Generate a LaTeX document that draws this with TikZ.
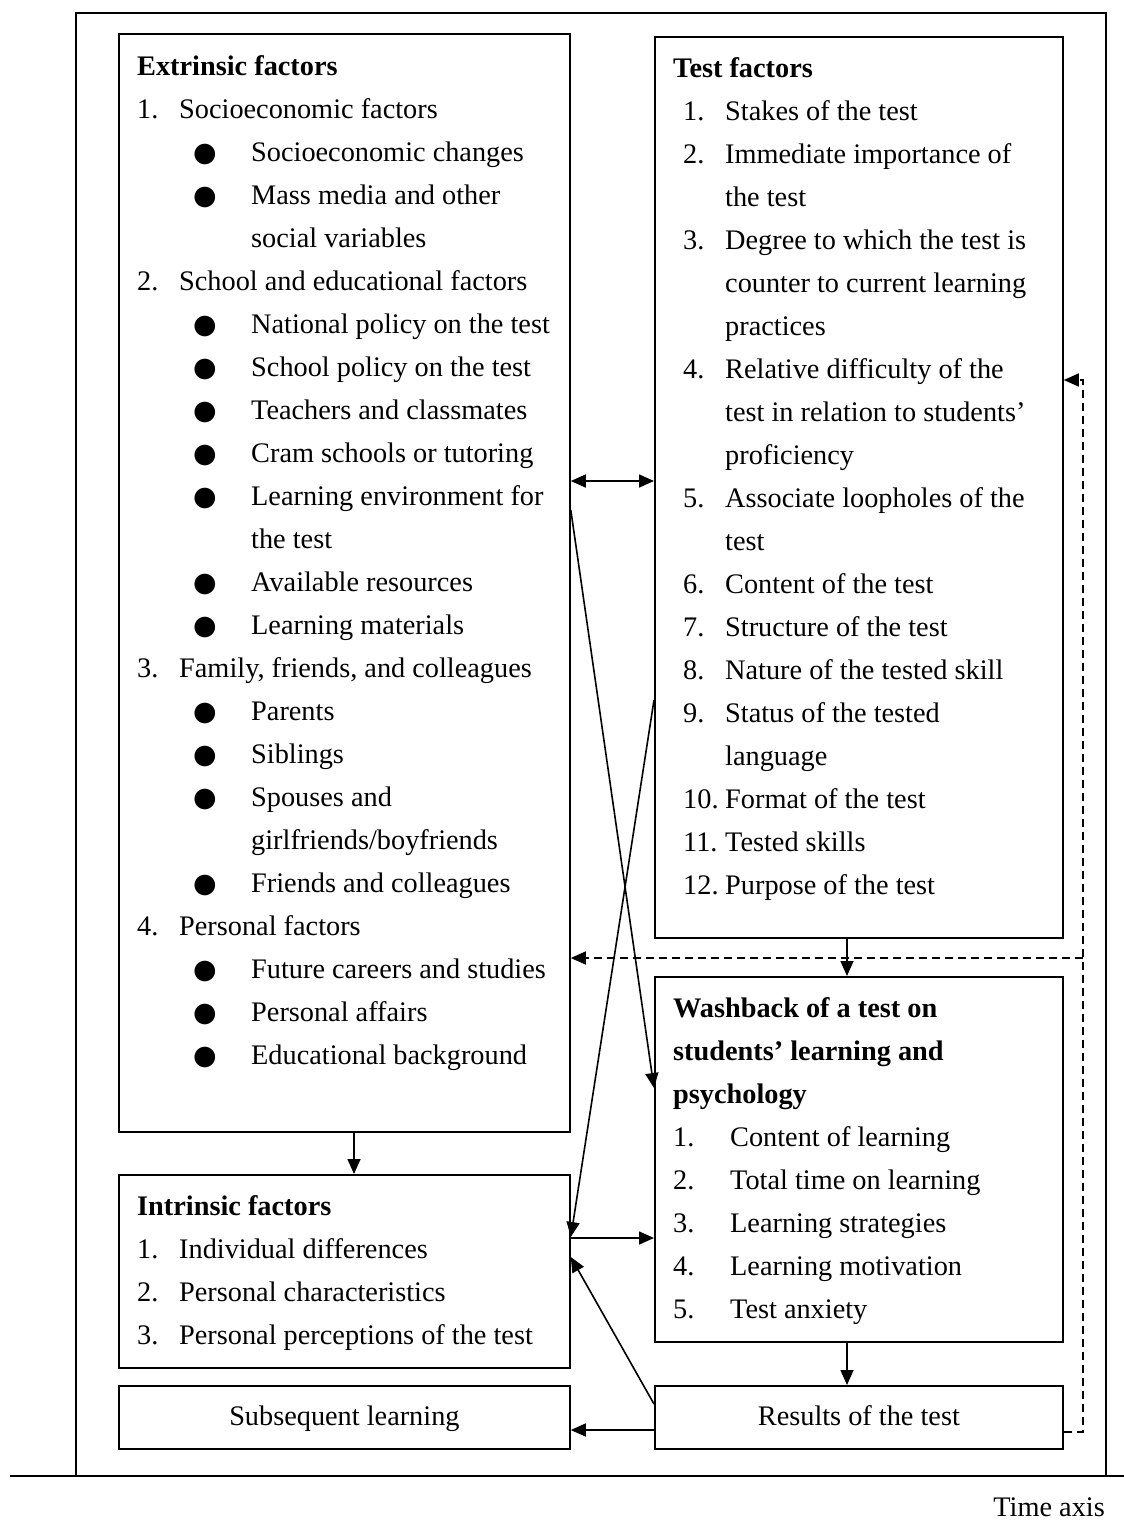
\documentclass[tikz,border=0pt]{standalone}
\usepackage{fontspec}
\setmainfont{Liberation Serif}
\newfontfamily\symfont{DejaVu Sans}
\usetikzlibrary{arrows.meta}

% one list row: indent, label box width, label, text
\newcommand{\rowitem}[4]{\hspace*{#1}\makebox[#2][l]{#3}#4}
\newcommand{\dotmark}{{\symfont\fontsize{27}{27}\selectfont ●}}
% rows of the left-hand lists
\newcommand{\numL}[2]{\rowitem{0pt}{42pt}{#1}{#2}}
\newcommand{\bulL}[1]{\rowitem{56pt}{58pt}{\dotmark}{#1}}
\newcommand{\contL}[1]{\rowitem{114pt}{0pt}{}{#1}}
% rows of the test-factor list
\newcommand{\numT}[2]{\rowitem{10pt}{42pt}{#1}{#2}}
\newcommand{\contT}[1]{\rowitem{52pt}{0pt}{}{#1}}
% rows of the washback list
\newcommand{\numW}[2]{\rowitem{0pt}{57pt}{#1}{#2}}

\begin{document}
\begin{tikzpicture}[x=1pt,y=-1pt,
  box/.style={draw,line width=1.8pt,rectangle,anchor=north west,inner sep=0pt},
  bodyfont/.style={font=\fontsize{28.3}{43}\selectfont},
  listtext/.style={bodyfont,anchor=base west,inner sep=0pt},
  tip/.tip={Triangle[length=15pt,width=13pt]},
  link/.style={line width=1.6pt,-tip},
  dashlink/.style={link,dash pattern=on 8pt off 5pt},
]
\useasboundingbox (0,0) rectangle (1124,1521);

% outer frame and time axis
\node[box,minimum width=1030pt,minimum height=1463pt] (frame) at (75,12) {};
\coordinate (axL) at (10,1476);
\coordinate (axR) at (1124,1476);
\draw[line width=1.8pt] (axL) -- (axR);
\node[bodyfont,anchor=base east,inner sep=0pt] (axis) at (1105,1516) {Time axis};

% boxes
\node[box,minimum width=451pt,minimum height=1098pt] (ext) at (118,33) {};
\node[box,minimum width=408pt,minimum height=901pt] (test) at (654,36) {};
\node[box,minimum width=408pt,minimum height=365pt] (wash) at (654,976) {};
\node[box,minimum width=451pt,minimum height=193pt] (intr) at (118,1174) {};
\node[box,bodyfont,text height=20pt,text depth=3pt,minimum width=451pt,minimum height=63pt] (subs) at (118,1385) {Subsequent learning};
\node[box,bodyfont,text height=20pt,text depth=3pt,minimum width=408pt,minimum height=63pt] (res) at (654,1385) {Results of the test};

% box contents
\node[listtext] (extT) at (137,75) {\parbox[t]{430pt}{%
\textbf{Extrinsic factors}\\
\numL{1.}{Socioeconomic factors}\\
\bulL{Socioeconomic changes}\\
\bulL{Mass media and other}\\
\contL{social variables}\\
\numL{2.}{School and educational factors}\\
\bulL{National policy on the test}\\
\bulL{School policy on the test}\\
\bulL{Teachers and classmates}\\
\bulL{Cram schools or tutoring}\\
\bulL{Learning environment for}\\
\contL{the test}\\
\bulL{Available resources}\\
\bulL{Learning materials}\\
\numL{3.}{Family, friends, and colleagues}\\
\bulL{Parents}\\
\bulL{Siblings}\\
\bulL{Spouses and}\\
\contL{girlfriends/boyfriends}\\
\bulL{Friends and colleagues}\\
\numL{4.}{Personal factors}\\
\bulL{Future careers and studies}\\
\bulL{Personal affairs}\\
\bulL{Educational background}}};

\node[listtext] (testT) at (673,77) {\parbox[t]{380pt}{%
\textbf{Test factors}\\
\numT{1.}{Stakes of the test}\\
\numT{2.}{Immediate importance of}\\
\contT{the test}\\
\numT{3.}{Degree to which the test is}\\
\contT{counter to current learning}\\
\contT{practices}\\
\numT{4.}{Relative difficulty of the}\\
\contT{test in relation to students’}\\
\contT{proficiency}\\
\numT{5.}{Associate loopholes of the}\\
\contT{test}\\
\numT{6.}{Content of the test}\\
\numT{7.}{Structure of the test}\\
\numT{8.}{Nature of the tested skill}\\
\numT{9.}{Status of the tested}\\
\contT{language}\\
\numT{10.}{Format of the test}\\
\numT{11.}{Tested skills}\\
\numT{12.}{Purpose of the test}}};

\node[listtext] (washT) at (673,1017) {\parbox[t]{380pt}{%
\textbf{Washback of a test on}\\
\textbf{students’ learning and}\\
\textbf{psychology}\\
\numW{1.}{Content of learning}\\
\numW{2.}{Total time on learning}\\
\numW{3.}{Learning strategies}\\
\numW{4.}{Learning motivation}\\
\numW{5.}{Test anxiety}}};

\node[listtext] (intrT) at (137,1215) {\parbox[t]{430pt}{%
\textbf{Intrinsic factors}\\
\numL{1.}{Individual differences}\\
\numL{2.}{Personal characteristics}\\
\numL{3.}{Personal perceptions of the test}}};

% solid connectors
\draw[line width=1.6pt,tip-tip] (ext.east |- 0,481) -- (test.west |- 0,481);
\draw[link] (ext.east |- 0,510) -- (wash.west |- 0,1088);
\draw[link] (test.west |- 0,700) -- (intr.east |- 0,1237);
\draw[link] (intr.east |- 0,1238) -- (wash.west |- 0,1238);
\draw[link] (res.west |- 0,1404) -- (intr.east |- 0,1257);
\draw[link] (res.west |- 0,1430) -- (subs.east |- 0,1430);
\draw[link] (ext.south -| 354,0) -- (intr.north -| 354,0);
\draw[link] (test.south -| 847,0) -- (wash.north -| 847,0);
\draw[link] (wash.south -| 847,0) -- (res.north -| 847,0);

% dashed feedback loop
\coordinate (loopA) at (1083,1432);
\coordinate (loopB) at (1083,380);
\coordinate (loopC) at (1083,958);
\draw[dashlink] (res.east |- loopA) -- (loopA) -- (loopB) -- (test.east |- loopB);
\draw[dashlink] (loopC) -- (ext.east |- loopC);
\end{tikzpicture}
\end{document}
